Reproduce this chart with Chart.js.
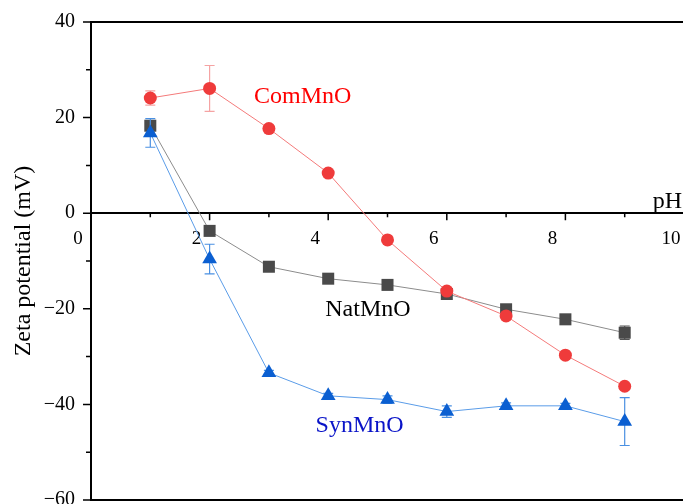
<!DOCTYPE html>
<html>
<head>
<meta charset="utf-8">
<script src="https://cdn.jsdelivr.net/npm/chart.js@4/dist/chart.umd.min.js"></script>
<style>
  html, body { margin: 0; padding: 0; background: #fff; overflow: hidden; }
  #wrap { position: relative; width: 700px; height: 504px; }
</style>
</head>
<body>
<div id="wrap"><canvas id="zeta" width="700" height="504"></canvas></div>
<script>
// pH values of the measurements
const phValues = [1, 2, 3, 4, 5, 6, 7, 8, 9];

// Zeta potential (mV) and standard deviation for each sample
const comMnO    = [24.1, 26.1, 17.7, 8.4, -5.6, -16.3, -21.5, -29.7, -36.2];
const comMnOErr = [1.5, 4.8, 0.5, 0.5, 0.5, 0.5, 0.5, 0.5, 0.5];

const natMnO    = [18.3, -3.7, -11.2, -13.7, -15.0, -16.9, -20.1, -22.2, -25.0];
const natMnOErr = [0.8, 0.5, 0.5, 0.5, 0.5, 0.5, 0.6, 0.6, 1.4];

const synMnO    = [16.8, -9.6, -33.4, -38.2, -39.0, -41.5, -40.3, -40.3, -43.6];
const synMnOErr = [3.0, 3.1, 0.5, 0.5, 0.8, 1.2, 0.6, 0.5, 5.0];

// Axis ranges and labelled tick values
const xRange = [0, 10];
const yRange = [-60, 40];
const xLabelledTicks = [0, 2, 4, 6, 8, 10];
const yLabelledTicks = [-60, -40, -20, 0, 20, 40];

const serif = '"Liberation Serif", "Times New Roman", serif';
Chart.defaults.font.family = serif;
Chart.defaults.color = '#000';

const toPoints = (ys) => phValues.map((x, i) => ({ x, y: ys[i] }));
const fmt = (v) => String(v).replace('-', '\u2212');

// Vertical error bars with caps, drawn just below each series
const errorBars = {
  id: 'errorBars',
  beforeDatasetDraw(chart, args) {
    const ds = chart.data.datasets[args.index];
    if (!ds.errors) return;
    const { ctx, scales: { x, y } } = chart;
    ctx.save();
    ctx.strokeStyle = ds.errorColor;
    ctx.lineWidth = 1.2;
    ds.data.forEach((p, i) => {
      const e = ds.errors[i];
      if (!e) return;
      const px = x.getPixelForValue(p.x);
      const yt = y.getPixelForValue(p.y + e);
      const yb = y.getPixelForValue(p.y - e);
      ctx.beginPath();
      ctx.moveTo(px, yt); ctx.lineTo(px, yb);
      ctx.moveTo(px - 5, yt); ctx.lineTo(px + 5, yt);
      ctx.moveTo(px - 5, yb); ctx.lineTo(px + 5, yb);
      ctx.stroke();
    });
    ctx.restore();
  }
};

// Box lines, major/minor tick marks and the series names
const frameAndNotes = {
  id: 'frameAndNotes',
  afterDraw(chart) {
    const { ctx, chartArea: a, scales: { x, y } } = chart;
    ctx.save();
    ctx.strokeStyle = '#000';
    ctx.lineWidth = 2;
    ctx.beginPath();
    ctx.moveTo(a.left - 1, a.top); ctx.lineTo(a.right, a.top);
    ctx.moveTo(a.left - 1, a.bottom); ctx.lineTo(a.right, a.bottom);
    ctx.stroke();

    ctx.lineWidth = 1.5;
    ctx.beginPath();
    y.ticks.forEach(t => {
      const py = y.getPixelForValue(t.value);
      const len = yLabelledTicks.includes(t.value) ? 8 : 5;
      ctx.moveTo(a.left - len, py); ctx.lineTo(a.left, py);
    });
    const y0 = y.getPixelForValue(0);
    x.ticks.forEach(t => {
      if (t.value === xRange[0]) return;
      const px = x.getPixelForValue(t.value);
      const len = xLabelledTicks.includes(t.value) ? 7 : 4;
      ctx.moveTo(px, y0); ctx.lineTo(px, y0 + len);
    });
    ctx.stroke();

    ctx.font = '24px ' + serif;
    ctx.textBaseline = 'middle';
    ctx.textAlign = 'center';
    ctx.fillStyle = '#ff0000';
    ctx.fillText('ComMnO', x.getPixelForValue(3.57), y.getPixelForValue(24.3));
    ctx.fillStyle = '#000000';
    ctx.fillText('NatMnO', x.getPixelForValue(4.67), y.getPixelForValue(-20.2));
    ctx.fillStyle = '#0a14c8';
    ctx.fillText('SynMnO', x.getPixelForValue(4.53), y.getPixelForValue(-44.5));
    ctx.fillStyle = '#000';
    ctx.textAlign = 'right';
    ctx.textBaseline = 'alphabetic';
    ctx.fillText('pH', a.right - 2, y.getPixelForValue(1.1));
    ctx.restore();
  }
};

new Chart(document.getElementById('zeta'), {
  type: 'line',
  data: {
    datasets: [
      {
        label: 'ComMnO',
        data: toPoints(comMnO),
        errors: comMnOErr,
        errorColor: '#f5a3a3',
        borderColor: '#f47a7a',
        borderWidth: 1,
        pointStyle: 'circle',
        pointRadius: 6.5,
        pointBackgroundColor: '#ef3b3b',
        pointBorderColor: '#ef3b3b',
        pointBorderWidth: 0,
        order: 2
      },
      {
        label: 'NatMnO',
        data: toPoints(natMnO),
        errors: natMnOErr,
        errorColor: '#555555',
        borderColor: '#8c8c8c',
        borderWidth: 1,
        pointStyle: 'rect',
        pointRadius: 8.5,
        pointBackgroundColor: '#4a4a4a',
        pointBorderColor: '#4a4a4a',
        pointBorderWidth: 0,
        order: 3
      },
      {
        label: 'SynMnO',
        data: toPoints(synMnO),
        errors: synMnOErr,
        errorColor: '#4a90e2',
        borderColor: '#5a9ce8',
        borderWidth: 1,
        pointStyle: 'triangle',
        pointRadius: 8.5,
        pointBackgroundColor: '#0b5fd1',
        pointBorderColor: '#0b5fd1',
        pointBorderWidth: 0,
        order: 1
      }
    ]
  },
  options: {
    responsive: false,
    animation: false,
    devicePixelRatio: 1,
    layout: { autoPadding: false, padding: { left: 0, top: 22, right: 16, bottom: 4 } },
    plugins: { legend: { display: false }, tooltip: { enabled: false } },
    elements: { line: { tension: 0 } },
    scales: {
      x: {
        type: 'linear',
        position: { y: 0 },
        min: xRange[0],
        max: xRange[1],
        ticks: {
          stepSize: 1,
          autoSkip: false,
          maxRotation: 0,
          padding: 14,
          labelOffset: -13,
          font: { size: 19 },
          color: '#000',
          callback: v => xLabelledTicks.includes(v) ? fmt(v) : ''
        },
        grid: { drawOnChartArea: false, drawTicks: false },
        border: { display: true, color: '#000', width: 2 },
        afterFit(s) { s.height = 0; s.paddingLeft = 0; s.paddingRight = 0; }
      },
      y: {
        position: 'left',
        min: yRange[0],
        max: yRange[1],
        ticks: {
          stepSize: 10,
          autoSkip: false,
          padding: 16,
          font: { size: 20 },
          color: '#000',
          callback: v => yLabelledTicks.includes(v) ? fmt(v) : ''
        },
        grid: { drawOnChartArea: false, drawTicks: false },
        border: { display: true, color: '#000', width: 2 },
        title: {
          display: true,
          text: 'Zeta potential (mV)',
          color: '#000',
          font: { size: 24 },
          padding: { top: 9, bottom: 0 }
        },
        afterFit(s) { s.width = 91; s.paddingTop = 0; s.paddingBottom = 0; }
      }
    }
  },
  plugins: [errorBars, frameAndNotes]
});
</script>
</body>
</html>
